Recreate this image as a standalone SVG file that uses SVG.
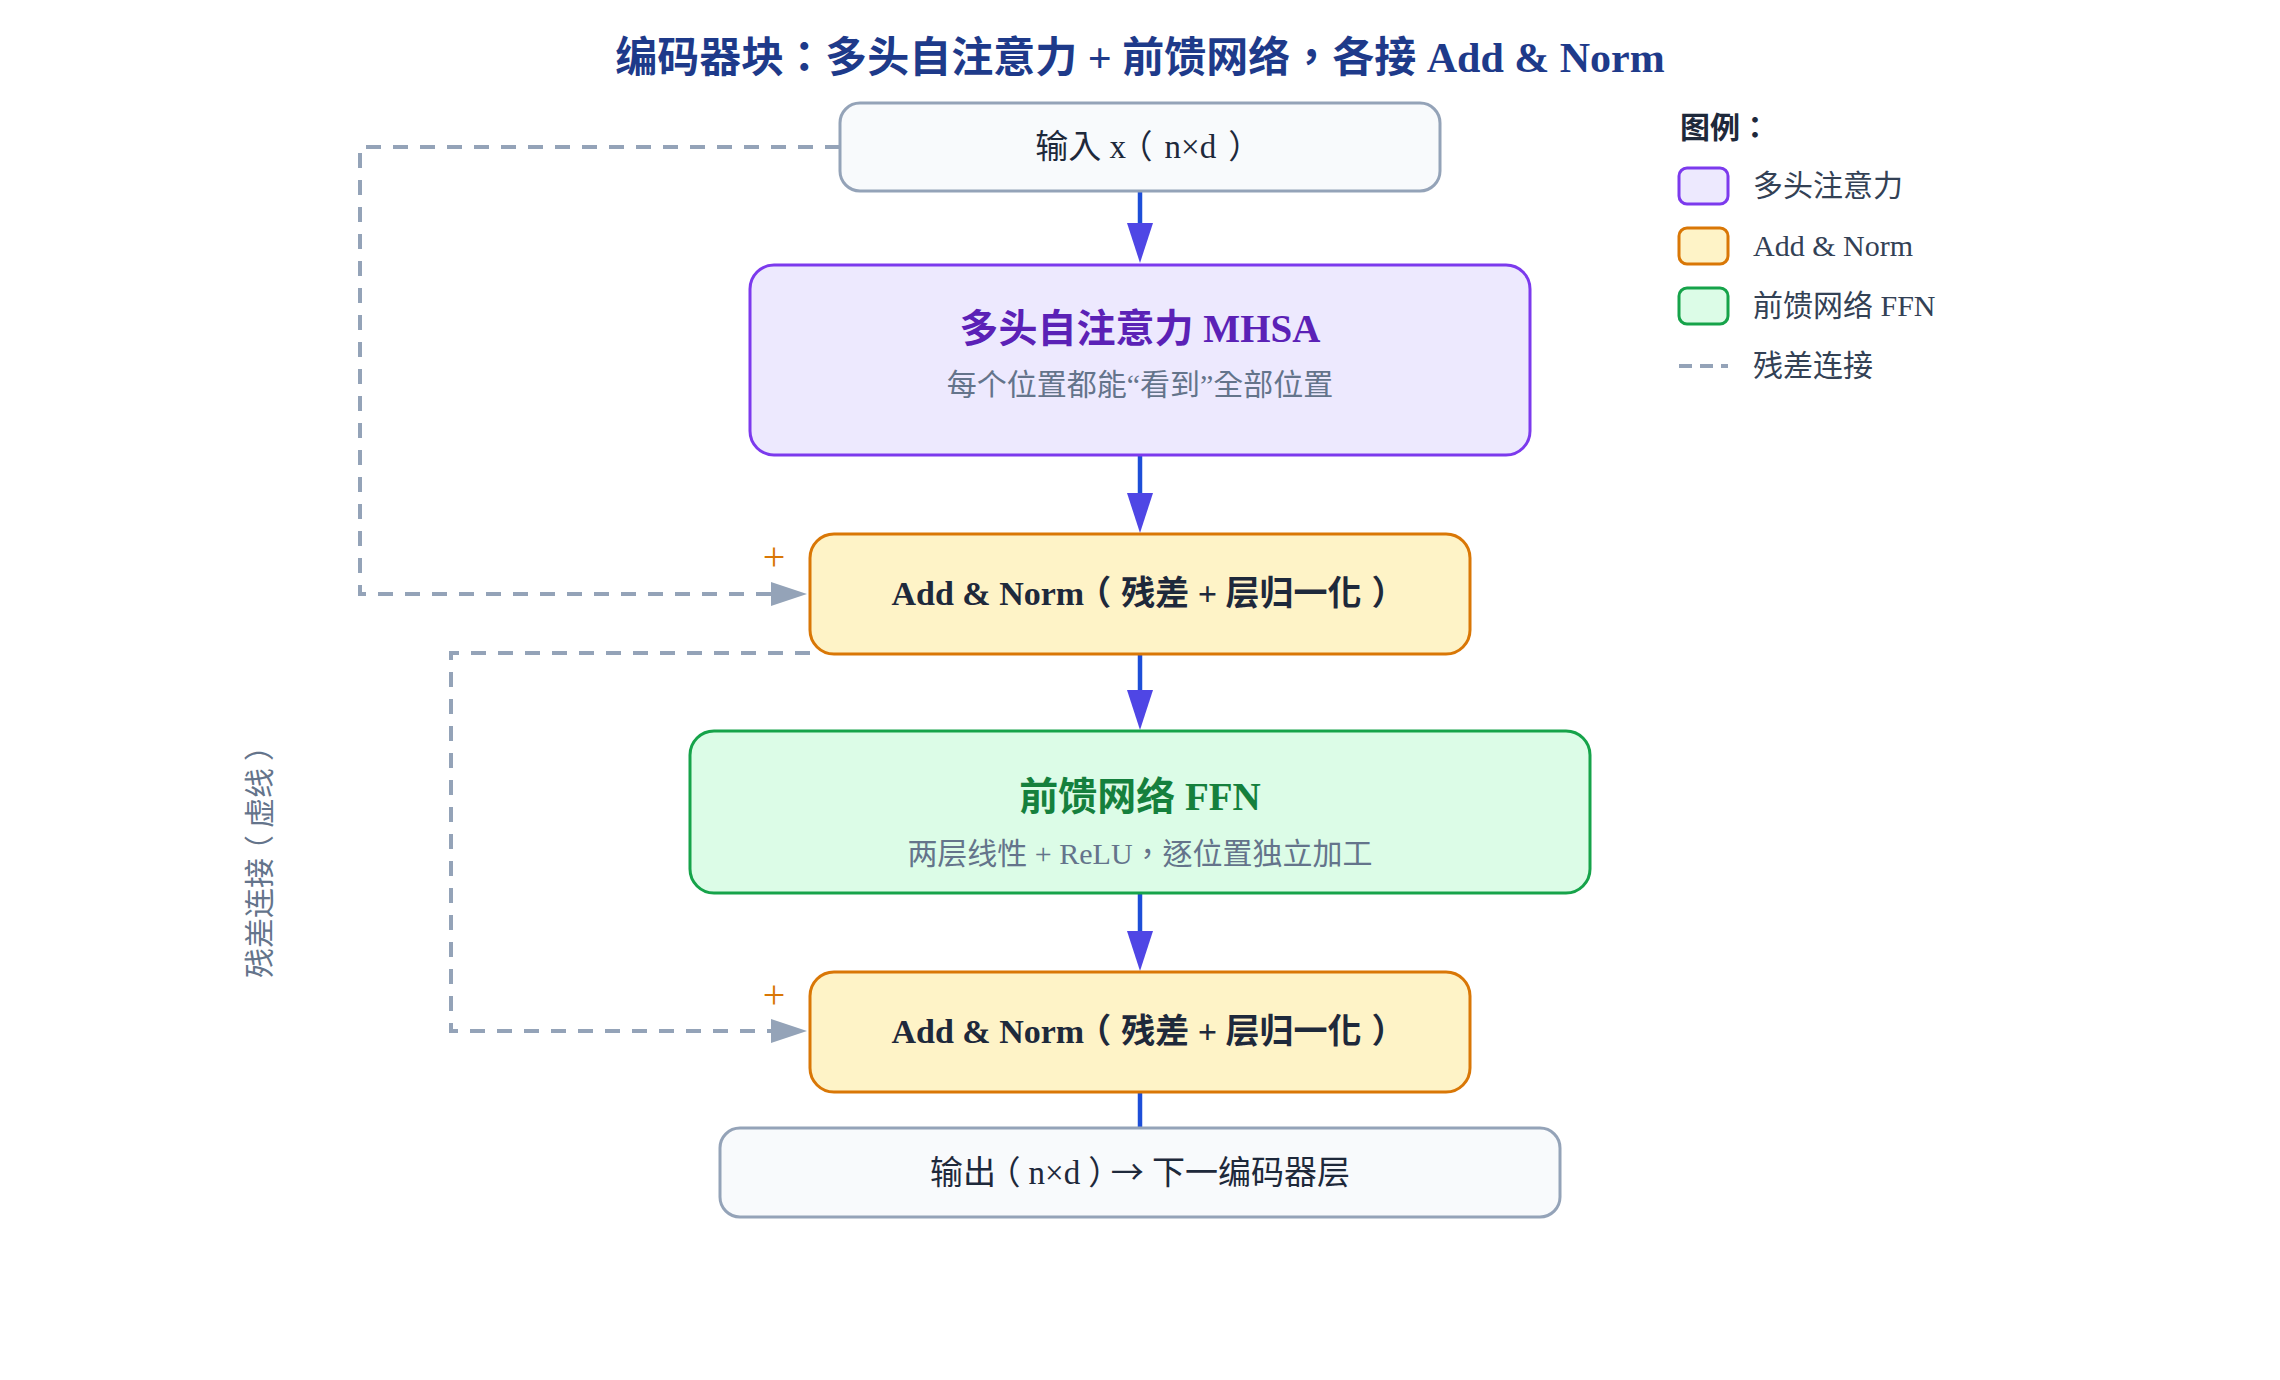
<svg xmlns="http://www.w3.org/2000/svg" width="2280" height="1380" viewBox="0 0 2280 1380">
  <style>
    text { font-family: 'Liberation Serif', 'Noto Sans CJK TC', serif; }
    .cjk { font-family: 'Noto Sans CJK TC', sans-serif; }
    .h { font-feature-settings: "halt" 1; }
    .title { font-size: 42px; font-weight: bold; fill: #1e3a8a; }
    .node { stroke-width: 3; }
    .io { fill: #f8fafc; stroke: #94a3b8; }
    .mhsa { fill: #ede9fe; stroke: #7c3aed; }
    .an { fill: #fef3c7; stroke: #d97706; }
    .ffn { fill: #dcfce7; stroke: #16a34a; }
    .body { font-size: 33px; fill: #1e293b; }
    .anText { font-size: 34px; font-weight: bold; fill: #1e293b; }
    .ntitle { font-size: 39px; font-weight: bold; }
    .sub { font-size: 30px; fill: #64748b; }
    .flow { stroke: #1d4ed8; stroke-width: 4.5; fill: none; }
    .res { stroke: #94a3b8; stroke-width: 4; stroke-dasharray: 15 12; fill: none; }
    .plus { font-size: 40px; fill: #d97706; }
    .leg { font-size: 30px; fill: #334155; }
  </style>
  <defs>
    <marker id="headBlue" markerUnits="userSpaceOnUse" markerWidth="40" markerHeight="26" refX="0" refY="13" orient="auto">
      <path d="M0,0 L40,13 L0,26 z" fill="#4f46e5"/>
    </marker>
    <marker id="headGray" markerUnits="userSpaceOnUse" markerWidth="36" markerHeight="24" refX="0" refY="12" orient="auto">
      <path d="M0,0 L36,12 L0,24 z" fill="#94a3b8"/>
    </marker>
  </defs>
  <rect width="2280" height="1380" fill="#ffffff"/>

  <text class="title" x="1140" y="72" text-anchor="middle">编码器块：多头自注意力 + 前馈网络，各接 Add &amp; Norm</text>

  <g id="connectors">
    <path class="res" d="M840,147 H360 V594 H771" marker-end="url(#headGray)"/>
    <path class="res" d="M810,653 H451 V1031 H771" marker-end="url(#headGray)"/>
    <line class="flow" x1="1140" y1="191" x2="1140" y2="223" marker-end="url(#headBlue)"/>
    <line class="flow" x1="1140" y1="455" x2="1140" y2="493" marker-end="url(#headBlue)"/>
    <line class="flow" x1="1140" y1="654" x2="1140" y2="690" marker-end="url(#headBlue)"/>
    <line class="flow" x1="1140" y1="893" x2="1140" y2="931" marker-end="url(#headBlue)"/>
    <line class="flow" x1="1140" y1="1092" x2="1140" y2="1128"/>
  </g>

  <g id="input">
    <rect class="node io" x="840" y="103" width="600" height="88" rx="20"/>
    <text class="body" x="1140" y="158" text-anchor="middle">输入 x<tspan class="h" dx="10">（</tspan><tspan dx="12">n×d</tspan><tspan class="h" dx="12">）</tspan></text>
  </g>

  <g id="mhsa">
    <rect class="node mhsa" x="750" y="265" width="780" height="190" rx="24"/>
    <text class="ntitle" x="1140" y="342" text-anchor="middle" fill="#5b21b6">多头自注意力 MHSA</text>
    <text class="sub" x="1140" y="395" text-anchor="middle">每个位置都能“看到”全部位置</text>
  </g>

  <g id="addnorm1">
    <rect class="node an" x="810" y="534" width="660" height="120" rx="24"/>
    <text class="anText" x="1140" y="605" text-anchor="middle">Add &amp; Norm<tspan class="h" dx="10">（</tspan><tspan dx="10">残差 + 层归一化</tspan><tspan class="h" dx="10">）</tspan></text>
    <text class="plus" x="774" y="570" text-anchor="middle">+</text>
  </g>

  <g id="ffn">
    <rect class="node ffn" x="690" y="731" width="900" height="162" rx="24"/>
    <text class="ntitle" x="1140" y="810" text-anchor="middle" fill="#15803d">前馈网络 FFN</text>
    <text class="sub" x="1140" y="864" text-anchor="middle">两层线性 + ReLU，逐位置独立加工</text>
  </g>

  <g id="addnorm2">
    <rect class="node an" x="810" y="972" width="660" height="120" rx="24"/>
    <text class="anText" x="1140" y="1043" text-anchor="middle">Add &amp; Norm<tspan class="h" dx="10">（</tspan><tspan dx="10">残差 + 层归一化</tspan><tspan class="h" dx="10">）</tspan></text>
    <text class="plus" x="774" y="1008" text-anchor="middle">+</text>
  </g>

  <g id="output">
    <rect class="node io" x="720" y="1128" width="840" height="89" rx="20"/>
    <text class="body" x="1140" y="1184" text-anchor="middle">输出<tspan class="h" dx="8">（</tspan><tspan dx="8">n×d</tspan><tspan class="h" dx="8">）</tspan><tspan class="cjk" dx="6">→</tspan> 下一编码器层</text>
  </g>

  <g id="sidelabel">
    <text class="sub" transform="translate(270,862) rotate(-90)" text-anchor="middle">残差连接<tspan class="h" dx="8">（</tspan><tspan dx="7">虚线</tspan><tspan class="h" dx="7">）</tspan></text>
  </g>

  <g id="legend">
    <text x="1680" y="138" style="font-size:30px;font-weight:bold;fill:#1e293b">图例：</text>
    <rect class="mhsa" x="1679" y="168" width="49" height="36" rx="8" stroke-width="3"/>
    <text class="leg" x="1753" y="196">多头注意力</text>
    <rect class="an" x="1679" y="228" width="49" height="36" rx="8" stroke-width="3"/>
    <text class="leg" x="1753" y="256">Add &amp; Norm</text>
    <rect class="ffn" x="1679" y="288" width="49" height="36" rx="8" stroke-width="3"/>
    <text class="leg" x="1753" y="316">前馈网络 FFN</text>
    <line x1="1679" y1="366" x2="1728" y2="366" stroke="#94a3b8" stroke-width="4" stroke-dasharray="13 8"/>
    <text class="leg" x="1753" y="376">残差连接</text>
  </g>
</svg>
